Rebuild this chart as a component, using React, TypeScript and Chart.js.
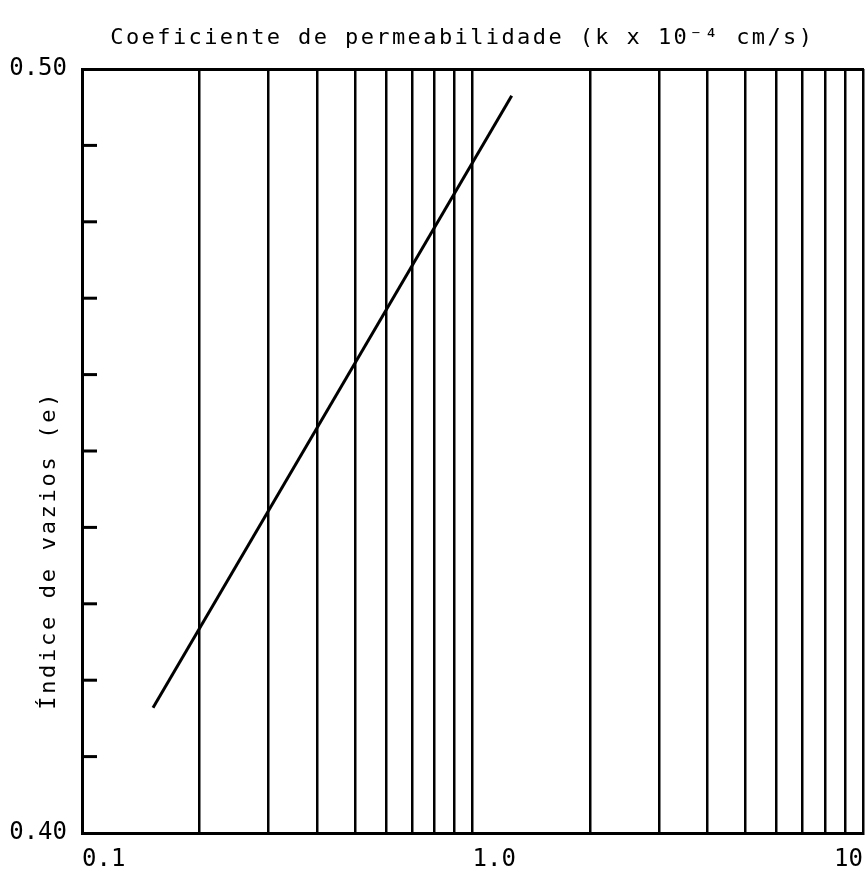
import React, { useEffect, useRef } from "react";
import { Chart, registerables } from "chart.js";

Chart.register(...registerables);

// ---- data ----
const lineK = [0.152, 1.26]; // permeability (x 10^-4 cm/s)
const lineE = [0.4164, 0.4965]; // void ratio
const xGridValues = [0.1, 0.2, 0.3, 0.4, 0.5, 0.6, 0.7, 0.8, 0.9, 1, 2, 3, 4, 5, 6, 7, 8, 9, 10];
const xLabelValues = [0.1, 1];
const xLabelTexts = ["0.1", "1.0"];
const xEndLabelValues = [10];
const xEndLabelTexts = ["10"];
const yTickValues = [0.4, 0.41, 0.42, 0.43, 0.44, 0.45, 0.46, 0.47, 0.48, 0.49, 0.5];
const yLabelValues = [0.4, 0.5];
const yLabelTexts = ["0.40", "0.50"];
const titleText = "Coeficiente de permeabilidade (k x 10\u207B\u2074 cm/s)";
const yTitleText = "\u00CDndice de vazios (e)";

const FONT = "'DejaVu Sans Mono', monospace";

function labelFor(values: number[], texts: string[], v: number): string {
  for (let i = 0; i < values.length; i++) {
    if (Math.abs(values[i] - v) < 1e-9) return texts[i];
  }
  return "";
}

const decorPlugin = {
  id: "decor",
  afterDraw(chart: any) {
    const { ctx, chartArea, scales } = chart;
    const y = scales.y;
    ctx.save();
    // inner y ticks
    ctx.strokeStyle = "#000";
    ctx.lineWidth = 3;
    yTickValues.forEach((v, i) => {
      if (i === 0 || i === yTickValues.length - 1) return;
      const py = y.getPixelForValue(v);
      ctx.beginPath();
      ctx.moveTo(chartArea.left, py);
      ctx.lineTo(chartArea.left + 15, py);
      ctx.stroke();
    });
    // title
    ctx.fillStyle = "#000";
    ctx.font = `22px ${FONT}`;
    (ctx as any).letterSpacing = "2.4px";
    ctx.textAlign = "center";
    ctx.textBaseline = "alphabetic";
    const w = chartArea.right - chartArea.left;
    ctx.fillText(titleText, chartArea.left + 0.487 * w, chartArea.top - 25);
    // y title
    (ctx as any).letterSpacing = "2.7px";
    const h = chartArea.bottom - chartArea.top;
    ctx.translate(chartArea.left - 33, chartArea.top + 0.63 * h);
    ctx.rotate(-Math.PI / 2);
    ctx.textBaseline = "middle";
    ctx.fillText(yTitleText, 0, 0);
    ctx.restore();
  },
};

const noPad = (s: any) => {
  s.paddingLeft = 0;
  s.paddingRight = 0;
};

export default function App() {
  const ref = useRef<HTMLCanvasElement | null>(null);
  useEffect(() => {
    if (!ref.current) return;
    const chart = new Chart(ref.current, {
      type: "line",
      data: {
        datasets: [
          {
            data: lineK.map((k, i) => ({ x: k, y: lineE[i] })),
            borderColor: "#000",
            borderWidth: 3,
            pointRadius: 0,
            fill: false,
            tension: 0,
          },
        ],
      },
      options: {
        animation: false,
        responsive: false,
        layout: { padding: { left: 0, right: 3, top: 0, bottom: 0 } },
        plugins: { legend: { display: false }, title: { display: false }, tooltip: { enabled: false } },
        scales: {
          x: {
            type: "logarithmic",
            position: "bottom",
            min: 0.1,
            max: 10,
            afterBuildTicks: (s: any) => {
              s.ticks = xGridValues.map((v) => ({ value: v }));
            },
            afterFit: (s: any) => {
              s.height = 43;
              noPad(s);
            },
            ticks: {
              autoSkip: false,
              maxRotation: 0,
              minRotation: 0,
              align: "start",
              padding: 12,
              color: "#000",
              font: { family: FONT, size: 24 },
              callback: (v: any) => labelFor(xLabelValues, xLabelTexts, Number(v)),
            },
            grid: { color: "#000", lineWidth: 2.5, drawTicks: false },
            border: { display: true, color: "#000", width: 3 },
          },
          xEnd: {
            type: "logarithmic",
            axis: "x",
            position: { y: 0.4 },
            min: 0.1,
            max: 10,
            afterBuildTicks: (s: any) => {
              s.ticks = xEndLabelValues.map((v) => ({ value: v }));
            },
            afterFit: (s: any) => {
              noPad(s);
            },
            ticks: {
              autoSkip: false,
              maxRotation: 0,
              minRotation: 0,
              align: "end",
              padding: 12,
              color: "#000",
              font: { family: FONT, size: 24 },
              callback: (v: any) => labelFor(xEndLabelValues, xEndLabelTexts, Number(v)),
            },
            grid: { display: false, drawTicks: false },
            border: { display: false },
          },
          x2: {
            type: "logarithmic",
            position: "top",
            min: 0.1,
            max: 10,
            afterFit: (s: any) => {
              s.height = 69;
              noPad(s);
            },
            ticks: { display: false },
            grid: { display: false, drawTicks: false },
            border: { display: true, color: "#000", width: 3 },
          },
          y: {
            type: "linear",
            min: 0.4,
            max: 0.5,
            afterBuildTicks: (s: any) => {
              s.ticks = yTickValues.map((v) => ({ value: v }));
            },
            afterFit: (s: any) => {
              s.width = 82;
            },
            ticks: {
              autoSkip: false,
              padding: 15,
              color: "#000",
              font: { family: FONT, size: 24 },
              callback: (v: any) => labelFor(yLabelValues, yLabelTexts, Number(v)),
            },
            grid: { display: false, drawTicks: false },
            border: { display: true, color: "#000", width: 3 },
          },
        },
      },
      plugins: [decorPlugin],
    } as any);
    return () => chart.destroy();
  }, []);
  return (
    <div style={{ position: "absolute", left: 0, top: 0, width: 866, height: 876, background: "#fff" }}>
      <canvas ref={ref} width={866} height={876} style={{ display: "block" }} />
    </div>
  );
}
